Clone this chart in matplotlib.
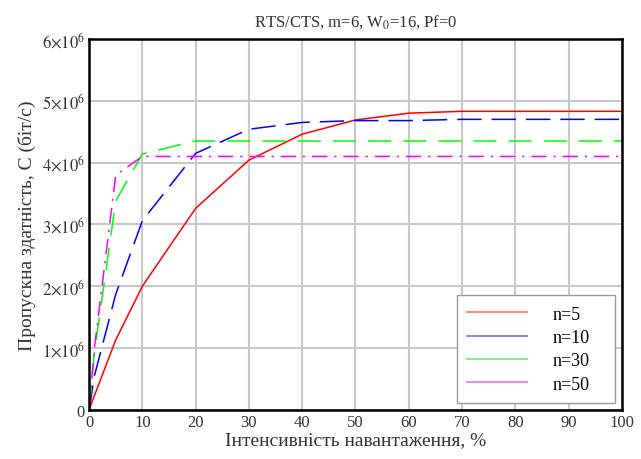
import numpy as np
import matplotlib
matplotlib.use('Agg')
import matplotlib.pyplot as plt
from matplotlib.lines import Line2D
from matplotlib.ticker import FuncFormatter, MultipleLocator

load = [0, 1, 5, 10, 20, 30, 40, 50, 60, 70, 80, 90, 100]
c_n5 = [0, 0.23, 1.13, 2.0, 3.26, 4.04, 4.46, 4.69, 4.80, 4.83, 4.83, 4.83, 4.83]
c_n10 = [0, 0.55, 1.87, 3.06, 4.15, 4.54, 4.65, 4.68, 4.68, 4.70, 4.70, 4.70, 4.70]
c_n30 = [0, 0.93, 3.38, 4.14, 4.35, 4.35, 4.35, 4.35, 4.35, 4.35, 4.35, 4.35, 4.35]
c_n50 = [0, 1.0, 3.8, 4.1, 4.1, 4.1, 4.1, 4.1, 4.1, 4.1, 4.1, 4.1, 4.1]
labels = ['n=5', 'n=10', 'n=30', 'n=50']

plt.rcParams['font.family'] = ['Liberation Serif', 'DejaVu Serif']
plt.rcParams['mathtext.fontset'] = 'stix'

fig = plt.figure(figsize=(6.41, 4.60), dpi=100)
ax = fig.add_axes([0.139, 0.107, 0.831, 0.806])

sc = 1e6
ax.plot(load, np.array(c_n5) * sc, color='#ff0000', lw=1.1)
ax.plot(load, np.array(c_n10) * sc, color='#0000ff', lw=1.1, dashes=(16, 6.5))
ax.plot(load, np.array(c_n30) * sc, color='#00ff00', lw=1.1, dashes=(15, 8))
ax.plot(load, np.array(c_n50) * sc, color='#ff00ff', lw=1.1, dashes=(10, 4.5, 1.5, 4.5))

ax.set_xlim(0, 100)
ax.set_ylim(0, 6e6)
ax.xaxis.set_major_locator(MultipleLocator(10))
ax.yaxis.set_major_locator(MultipleLocator(1e6))

def yfmt(v, pos):
    k = int(round(v / 1e6))
    if k == 0:
        return '0'
    return r'$%d{\times}10^{6}$' % k

ax.yaxis.set_major_formatter(FuncFormatter(yfmt))
ax.grid(True, color='#c8c8c8', lw=1.5)
ax.set_axisbelow(True)
for s in ax.spines.values():
    s.set_linewidth(1.8)
ax.tick_params(length=0, labelsize=12, pad=3)
for lab in ax.get_xticklabels() + ax.get_yticklabels():
    lab.set_color('#333333')

ax.set_title(r'RTS/CTS, m=6, W$_0$=16, Pf=0', fontsize=12, color='#333333', pad=10)
ax.set_xlabel('Інтенсивність навантаження, %', fontsize=14, color='#333333', labelpad=1)
ax.set_ylabel('Пропускна здатність, С (біт/с)', fontsize=14, color='#333333', labelpad=4)

handles = [Line2D([], [], color=c, lw=1.5, alpha=0.45)
           for c in ['#ff0000', '#0000ff', '#00cc00', '#dd00dd']]
leg = ax.legend(handles, labels, loc='lower left',
                bbox_to_anchor=(0.69, 0.017, 0.298, 0.283), mode='expand',
                borderaxespad=0, fontsize=13, handlelength=3.3,
                handletextpad=1.4, labelspacing=0.35, fancybox=False,
                framealpha=1, edgecolor='#999999', borderpad=0.6)
leg.get_frame().set_linewidth(1.0)

plt.savefig('out.png', dpi=100)
